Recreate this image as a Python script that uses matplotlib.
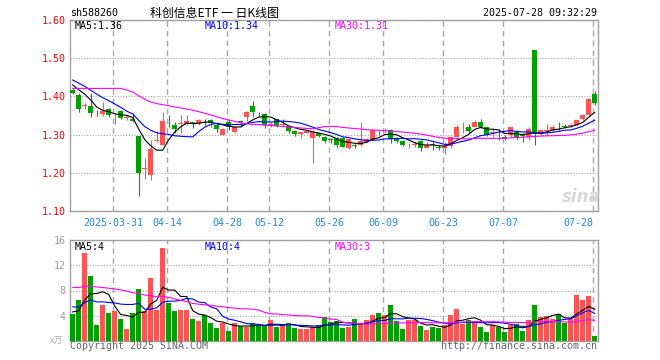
import numpy as np
import pandas as pd
import matplotlib
matplotlib.use("Agg")
import matplotlib.pyplot as plt

plt.rcParams['font.family'] = ['DejaVu Sans Mono']

# trading days in the window (weekdays minus exchange holidays)
holidays = ["2025-04-04", "2025-05-01", "2025-05-02", "2025-05-05", "2025-06-02"]
days = pd.bdate_range("2025-03-20", "2025-07-28")
days = days[~days.isin(pd.to_datetime(holidays))]

opens = [1.418, 1.404, 1.376, 1.375, 1.354, 1.353, 1.366, 1.348, 1.362, 1.344,
         1.340, 1.296, 1.210, 1.195, 1.284, 1.273, 1.336, 1.325, 1.327, 1.327,
         1.331, 1.328, 1.333, 1.338, 1.325, 1.299, 1.334, 1.308, 1.335, 1.345,
         1.375, 1.359, 1.353, 1.326, 1.340, 1.326, 1.322, 1.310, 1.302, 1.305,
         1.290, 1.303, 1.293, 1.287, 1.290, 1.290, 1.264, 1.271, 1.273, 1.281,
         1.287, 1.304, 1.311, 1.312, 1.291, 1.282, 1.272, 1.274, 1.283, 1.266,
         1.275, 1.266, 1.264, 1.270, 1.295, 1.306, 1.321, 1.321, 1.334, 1.319,
         1.304, 1.302, 1.295, 1.299, 1.308, 1.297, 1.295, 1.521, 1.301, 1.310,
         1.312, 1.325, 1.322, 1.323, 1.325, 1.340, 1.351, 1.405]
highs = [1.422, 1.408, 1.383, 1.408, 1.364, 1.386, 1.369, 1.356, 1.364, 1.351,
         1.355, 1.296, 1.238, 1.285, 1.310, 1.358, 1.351, 1.334, 1.351, 1.351,
         1.334, 1.340, 1.341, 1.340, 1.330, 1.316, 1.340, 1.321, 1.338, 1.362,
         1.388, 1.360, 1.356, 1.334, 1.341, 1.340, 1.325, 1.312, 1.308, 1.312,
         1.312, 1.305, 1.296, 1.290, 1.295, 1.293, 1.290, 1.277, 1.334, 1.292,
         1.314, 1.310, 1.318, 1.315, 1.295, 1.286, 1.279, 1.284, 1.286, 1.281,
         1.286, 1.273, 1.281, 1.296, 1.325, 1.334, 1.329, 1.337, 1.340, 1.321,
         1.316, 1.314, 1.299, 1.321, 1.312, 1.303, 1.319, 1.521, 1.312, 1.329,
         1.325, 1.334, 1.328, 1.331, 1.338, 1.354, 1.395, 1.415]
lows = [1.405, 1.360, 1.367, 1.347, 1.349, 1.349, 1.347, 1.328, 1.340, 1.338,
        1.333, 1.140, 1.185, 1.181, 1.281, 1.273, 1.321, 1.305, 1.305, 1.325,
        1.317, 1.325, 1.325, 1.321, 1.308, 1.299, 1.312, 1.303, 1.321, 1.336,
        1.347, 1.347, 1.318, 1.319, 1.320, 1.321, 1.305, 1.297, 1.290, 1.303,
        1.226, 1.293, 1.279, 1.279, 1.268, 1.267, 1.262, 1.264, 1.271, 1.281,
        1.286, 1.299, 1.303, 1.279, 1.277, 1.271, 1.264, 1.268, 1.257, 1.264,
        1.260, 1.260, 1.249, 1.264, 1.293, 1.303, 1.303, 1.319, 1.316, 1.296,
        1.293, 1.286, 1.287, 1.295, 1.288, 1.281, 1.286, 1.274, 1.299, 1.299,
        1.308, 1.312, 1.316, 1.319, 1.322, 1.338, 1.349, 1.377]
closes = [1.408, 1.367, 1.378, 1.356, 1.353, 1.363, 1.351, 1.350, 1.343, 1.345,
          1.336, 1.199, 1.213, 1.261, 1.287, 1.336, 1.335, 1.314, 1.330, 1.335,
          1.330, 1.338, 1.331, 1.330, 1.314, 1.314, 1.321, 1.319, 1.333, 1.359,
          1.360, 1.358, 1.325, 1.328, 1.322, 1.328, 1.310, 1.302, 1.307, 1.310,
          1.306, 1.296, 1.284, 1.286, 1.274, 1.268, 1.288, 1.270, 1.284, 1.289,
          1.312, 1.303, 1.313, 1.288, 1.282, 1.273, 1.274, 1.276, 1.266, 1.274,
          1.274, 1.265, 1.270, 1.295, 1.321, 1.308, 1.310, 1.334, 1.321, 1.299,
          1.306, 1.301, 1.289, 1.319, 1.295, 1.296, 1.314, 1.302, 1.312, 1.312,
          1.321, 1.324, 1.321, 1.325, 1.338, 1.351, 1.392, 1.384]
volume = [4.3, 6.5, 13.9, 10.3, 2.6, 5.7, 4.4, 4.75, 3.5, 1.9,
          4.4, 8.2, 4.75, 10.0, 4.9, 14.7, 6.0, 4.75, 4.9, 4.9,
          3.5, 3.2, 4.1, 2.85, 2.06, 2.85, 1.6, 2.85, 2.4, 2.2,
          2.85, 2.5, 2.4, 3.3, 2.2, 2.5, 2.85, 2.06, 1.9, 1.9,
          2.2, 2.5, 3.8, 3.06, 3.2, 2.06, 2.2, 3.5, 2.7, 3.3,
          4.1, 4.4, 4.1, 5.7, 3.2, 1.9, 3.3, 3.3, 2.4, 1.74,
          2.2, 2.06, 2.5, 4.1, 5.1, 2.7, 3.3, 3.2, 2.2, 1.43,
          2.5, 2.2, 1.43, 2.5, 2.7, 1.6, 3.3, 5.7, 3.8, 3.96,
          3.5, 4.28, 2.85, 3.5, 7.3, 6.5, 7.1, 0.8]  # x万

# the 29 sessions before the window, only used to seed the moving averages
pre_close = [1.37, 1.38, 1.36, 1.35, 1.36, 1.35, 1.35, 1.34,
             1.48, 1.49, 1.50, 1.48, 1.48,
             1.41, 1.42, 1.41, 1.42, 1.41, 1.42, 1.422,
             1.45, 1.46, 1.46, 1.455, 1.455,
             1.43, 1.435, 1.433, 1.444]
pre_volume = [8.0, 7.5, 8.5, 7.8, 8.2, 7.6, 8.0, 8.1, 7.8,
              12, 13, 11, 12.5, 11.5, 12, 11, 12, 11.5, 11, 12,
              7, 6.5, 6, 6, 5.5,
              5.5, 5.4, 5.32, 2.5]

tick_dates = ["2025-03-31", "2025-04-14", "2025-04-28", "2025-05-12", "2025-05-26",
              "2025-06-09", "2025-06-23", "2025-07-07", "2025-07-28"]
tick_labels = ["2025-03-31", "04-14", "04-28", "05-12", "05-26",
               "06-09", "06-23", "07-07", "07-28"]
price_ticks = [1.10, 1.20, 1.30, 1.40, 1.50, 1.60]
vol_ticks = [4, 8, 12, 16]
price_ma_text = ["MA5:1.36", "MA10:1.34", "MA30:1.31"]
vol_ma_text = ["MA5:4", "MA10:4", "MA30:3"]
ma_periods = [5, 10, 30]

RED = '#ff5252'
GREEN = '#00a000'
MA_COLORS = ['black', '#0000ff', '#ff00ff']
GRID = '#a8a8a8'
FRAME = '#a0a0a0'

o = np.array(opens); h = np.array(highs); l = np.array(lows); c = np.array(closes)
v = np.array(volume)
x = np.arange(len(days))
col = np.where(c >= o, RED, GREEN)

all_c = pd.Series(pre_close + closes)
all_v = pd.Series(pre_volume + volume)
price_ma = [all_c.rolling(n).mean().values[len(pre_close):] for n in ma_periods]
vol_ma = [all_v.rolling(n).mean().values[len(pre_volume):] for n in ma_periods]

tick_pos = [days.get_loc(pd.Timestamp(d)) - 0.3 for d in tick_dates]

W, H = 660.0, 360.0
fig = plt.figure(figsize=(6.6, 3.6), dpi=100)
L, R = 70, 597.7
ax = fig.add_axes([L / W, 1 - 211 / H, (R - L) / W, (211 - 20) / H])
axv = fig.add_axes([L / W, 1 - 341 / H, (R - L) / W, (341 - 240) / H])

for a in (ax, axv):
    a.set_xlim(-0.45, len(days) - 0.5)
    for s in a.spines.values():
        s.set_color(FRAME)
        s.set_linewidth(1.0)
    a.set_xticks(tick_pos)
    a.tick_params(length=0)
    a.xaxis.grid(True, color=GRID, linestyle=(0, (4, 3)), linewidth=1.0)
    a.yaxis.grid(True, color=GRID, linestyle=(0, (1, 1.5)), linewidth=0.8)
    a.set_axisbelow(True)

# price panel
ax.vlines(x, l, h, colors=col, linewidth=0.8, zorder=3)
body = np.maximum(np.abs(c - o), 0.0018)
ax.bar(x, body, bottom=np.minimum(o, c), width=0.83, color=col, linewidth=0, zorder=4)
for ma, mc in zip(price_ma, MA_COLORS):
    ax.plot(x, ma, color=mc, linewidth=0.8, zorder=5)
ax.set_ylim(1.10, 1.60)
ax.set_yticks(price_ticks)
ax.set_yticklabels([f"{p:.2f}" for p in price_ticks], color='red', fontsize=7.2)
ax.tick_params(axis='y', pad=3)
ax.set_xticklabels(tick_labels, color='#2288dd', fontsize=7.2)
ax.tick_params(axis='x', pad=5)
ax.get_xticklabels()[-1].set_ha('right')
ax.get_xticklabels()[-1].set_x(0)

# volume panel
axv.bar(x, v, width=0.83, color=col, linewidth=0, zorder=3)
for ma, mc in zip(vol_ma, MA_COLORS):
    axv.plot(x, ma, color=mc, linewidth=0.8, zorder=5)
axv.set_ylim(0, 16)
axv.set_yticks(vol_ticks)
axv.set_yticklabels([str(t) for t in vol_ticks], color='#999999', fontsize=7.2)
axv.tick_params(axis='y', pad=3)
axv.set_xticklabels([])

# texts
def px(xp, yp):
    return xp / W, 1 - yp / H

fig.text(*px(70, 13), "sh588260", fontsize=7.2, va='center', ha='left')
fig.text(*px(150, 13), "科创信息ETF 一 日K线图", fontsize=8.6, va='center', ha='left',
         family=['Noto Sans CJK SC', 'DejaVu Sans'])
fig.text(*px(597, 13), "2025-07-28 09:32:29", fontsize=7.2, va='center', ha='right')

for t, mc, xp in zip(price_ma_text, MA_COLORS, [75, 204.5, 334.5]):
    fig.text(*px(xp, 26), t, color=mc, fontsize=7.2, va='center', ha='left')
for t, mc, xp in zip(vol_ma_text, MA_COLORS, [75, 204.5, 334.5]):
    fig.text(*px(xp, 246.5), t, color=mc, fontsize=7.2, va='center', ha='left')

fig.text(*px(581, 197), "sina", fontsize=12, fontweight='bold', style='italic',
         color='#d8d8d8', va='center', ha='center', family=['DejaVu Sans'])
fig.text(*px(63, 341), "x万", fontsize=6.5, color='#aaaaaa', style='italic',
         va='center', ha='right', family=['Noto Sans CJK SC', 'DejaVu Sans'])
fig.text(*px(70, 346), "Copyright 2025 SINA.COM", fontsize=7.2, color='#666666',
         va='center', ha='left')
fig.text(*px(597.5, 346), "http://finance.sina.com.cn", fontsize=7.2, color='#666666',
         va='center', ha='right')

fig.savefig("out.png", dpi=100)
